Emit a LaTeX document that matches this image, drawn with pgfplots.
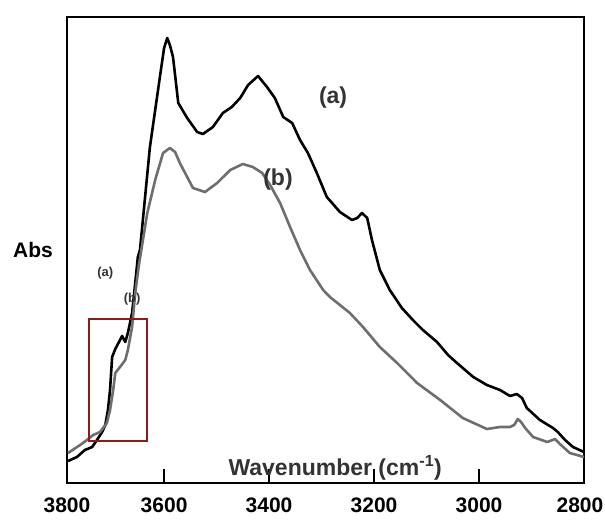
\documentclass[border=0pt]{standalone}
\usepackage{fontspec}
\setmainfont{Liberation Sans}
\usepackage{pgfplots}
\pgfplotsset{compat=1.18}

\definecolor{curveb}{HTML}{6E6E6E}
\definecolor{boxred}{HTML}{8B1A1A}
\definecolor{lbl}{HTML}{333333}

\begin{document}
\begin{tikzpicture}
\begin{axis}[
  scale only axis, width=517pt, height=466pt,
  xmin=2800, xmax=3785, x dir=reverse,
  ymin=0, ymax=466,
  ytick=\empty,
  xtick={2800,3000,3200,3400,3600,3785},
  xticklabels={\makebox[0pt]{\kern-8pt 2800},3000,3200,3400,3600,3800},
  xtick pos=bottom, tick align=inside,
  major tick length=14pt,
  every tick/.style={black, line width=1.4pt},
  axis line style={line width=1.6pt},
  /pgf/number format/assume math mode=true,
  xticklabel style={font=\fontsize{21}{23}\selectfont\bfseries, yshift=-11pt},
  clip=false,
]
% (a) black
\addplot[black, line width=2.6pt, line join=round] coordinates {
(3783,22)(3766,26)(3751,33)(3737,36)(3728,43)(3718,51)(3712,58)(3707,73)
(3703,93)(3699,126)(3693,134)(3684,143)(3680,147)(3674,141)(3669,150)
(3661,170)(3655,200)(3650,226)(3646,233)(3627,336)(3608,406)(3600,435)
(3594,445)(3589,438)(3583,426)(3573,380)(3556,365)(3537,351)(3526,349)
(3507,356)(3488,370)(3471,376)(3455,385)(3440,398)(3421,407)(3404,396)
(3389,385)(3373,366)(3356,360)(3341,343)(3326,330)(3309,310)(3290,286)
(3265,271)(3242,263)(3232,265)(3223,270)(3213,265)(3204,243)(3189,213)
(3170,193)(3147,175)(3126,163)(3107,153)(3080,141)(3059,128)(3042,120)
(3011,106)(2985,98)(2960,93)(2941,87)(2928,89)(2918,85)(2909,75)
(2884,63)(2859,55)(2850,51)(2836,43)(2821,36)(2800,31)
};
% (b) grey
\addplot[curveb, line width=2.6pt, line join=round] coordinates {
(3783,30)(3760,38)(3747,43)(3735,48)(3722,51)(3709,60)(3703,73)(3697,93)
(3693,110)(3684,116)(3674,123)(3669,133)(3661,156)(3655,190)(3648,218)
(3632,270)(3617,303)(3602,330)(3589,335)(3579,331)(3570,320)(3560,310)
(3545,295)(3522,291)(3499,300)(3474,313)(3450,319)(3431,316)(3413,310)
(3398,298)(3379,280)(3360,256)(3341,233)(3322,213)(3297,193)(3284,186)
(3265,178)(3246,170)(3221,156)(3189,136)(3156,120)(3118,100)(3074,83)
(3031,65)(2985,54)(2960,56)(2941,56)(2933,58)(2926,64)(2920,61)(2912,55)
(2897,46)(2870,41)(2855,44)(2846,39)(2827,30)(2800,26)
};
\draw[boxred, line width=1.8pt] (axis cs:3743,42) rectangle (axis cs:3632,164);
\node[font=\fontsize{23}{25}\selectfont\bfseries, text=lbl] at (axis cs:3278,385) {(a)};
\node[font=\fontsize{23}{25}\selectfont\bfseries, text=lbl] at (axis cs:3383,303) {(b)};
\node[font=\fontsize{13}{14}\selectfont\bfseries, text=lbl] at (axis cs:3712,210) {(a)};
\node[font=\fontsize{13}{14}\selectfont\bfseries, text=lbl] at (axis cs:3661,184) {(b)};
\node[font=\fontsize{23}{25}\selectfont\bfseries, text=lbl] at (axis cs:3274,15) {Wavenumber (cm\textsuperscript{-1})};
\node[font=\fontsize{21}{23}\selectfont\bfseries, xshift=-34pt] at (axis cs:3785,233) {Abs};
\coordinate (bl) at (rel axis cs:0,0);
\end{axis}
\pgfresetboundingbox
\path (bl) ++(-67pt,-37pt) rectangle ++(605pt,520pt);
\end{tikzpicture}
\end{document}
